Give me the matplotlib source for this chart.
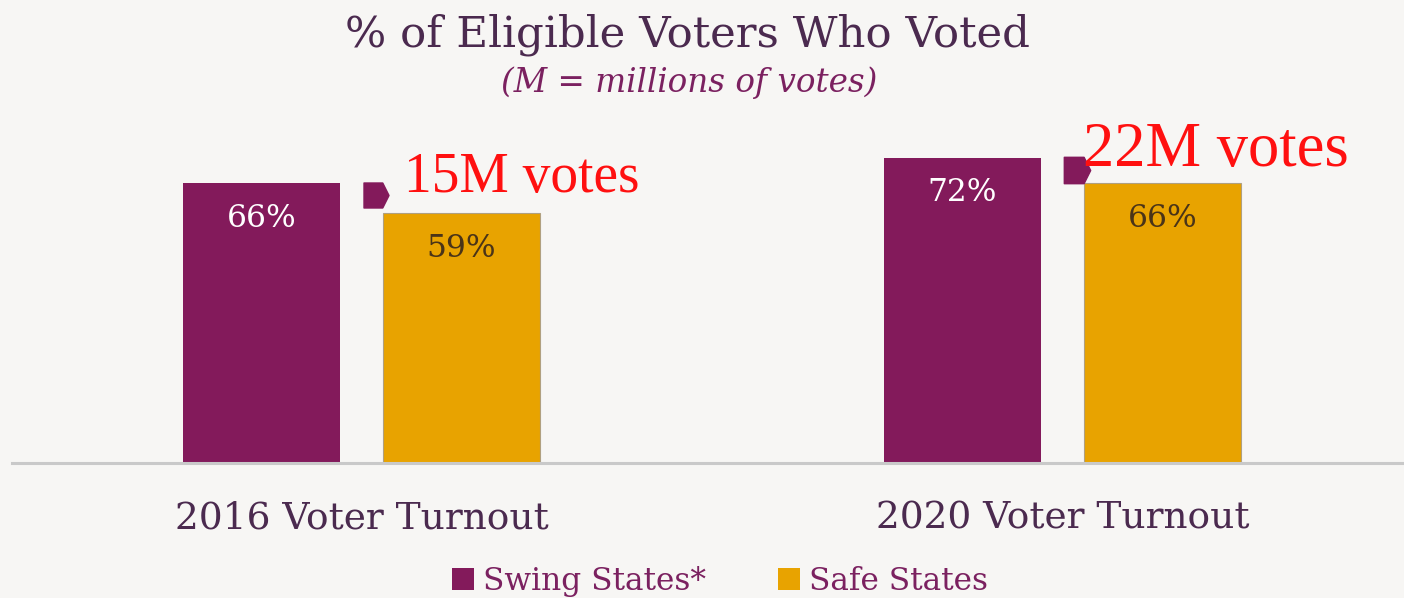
import numpy as np
import matplotlib.pyplot as plt
from matplotlib.patches import Patch
from matplotlib.path import Path

years = ["2016 Voter Turnout", "2020 Voter Turnout"]
swing = [66, 72]
safe = [59, 66]
votes = ["15M votes", "22M votes"]

BG = "#f7f6f4"
PURPLE = "#831a5b"
GOLD = "#e8a300"
TEXT = "#4b2a4f"

plt.rcParams["font.family"] = ["DejaVu Serif"]

fig = plt.figure(figsize=(14.04, 5.98), dpi=100, facecolor=BG)
ax = fig.add_axes([12 / 1404, 135 / 598, 1392 / 1404, 424 / 598])
ax.set_facecolor(BG)

x = np.arange(len(years))
off = 0.1427
w = 0.224
ax.bar(x - off, swing, w, color=PURPLE, zorder=2)
ax.bar(x + off, safe, w, color=GOLD, edgecolor="#b0a080", linewidth=0.8, zorder=2)

ax.set_xlim(-0.4986, 1.487)
ax.set_ylim(0, 100)
for s in ["top", "right", "left"]:
    ax.spines[s].set_visible(False)
ax.spines["bottom"].set_color("#c9c9c9")
ax.spines["bottom"].set_linewidth(2.2)
ax.set_yticks([])
ax.set_xticks(x)
ax.set_xticklabels(years, fontsize=27, color=TEXT)
ax.tick_params(axis="x", length=0, pad=27)

# value labels inside the bars
for i in range(len(years)):
    ax.text(x[i] - off, swing[i] - 8.3, f"{swing[i]}%", ha="center", va="center",
            fontsize=22.5, color="white")
    ax.text(x[i] + off, safe[i] - 8.3, f"{safe[i]}%", ha="center", va="center",
            fontsize=22.5, color="#4a3418")

# pointer shape between the bars + vote counts
pointer = Path([(-1, -1), (0.5, -1), (1, 0), (0.5, 1), (-1, 1), (-1, -1)],
               [Path.MOVETO, Path.LINETO, Path.LINETO, Path.LINETO, Path.LINETO, Path.CLOSEPOLY])
psize = [18, 19]
for i in range(len(years)):
    ax.plot(x[i] + 0.02, swing[i] - 2.9, marker=pointer, markersize=psize[i],
            color=PURPLE, zorder=3)
vote_size = [40, 45]
vote_x = [0.06, 1.0296]
vote_y = [67.3, 73.6]
for i in range(len(years)):
    ax.text(vote_x[i], vote_y[i], votes[i], ha="left", va="center",
            fontsize=vote_size[i], color="#ff1010", family="Liberation Serif")

fig.text(0.490, 0.942, "% of Eligible Voters Who Voted", ha="center", va="center",
         fontsize=31.3, color=TEXT)
fig.text(0.491, 0.862, "(M = millions of votes)", ha="center", va="center",
         fontsize=23.5, style="italic", color="#7b2160")

handles = [Patch(facecolor=PURPLE, label="Swing States*"),
           Patch(facecolor=GOLD, label="Safe States")]
fig.legend(handles=handles, loc="center", bbox_to_anchor=(0.513, 0.028), ncol=2,
           frameon=False, fontsize=22.5, labelcolor="#7b2160", handlelength=0.7,
           handleheight=0.7, handletextpad=0.3, columnspacing=2.3)

fig.savefig("out.png", dpi=100, facecolor=BG)
